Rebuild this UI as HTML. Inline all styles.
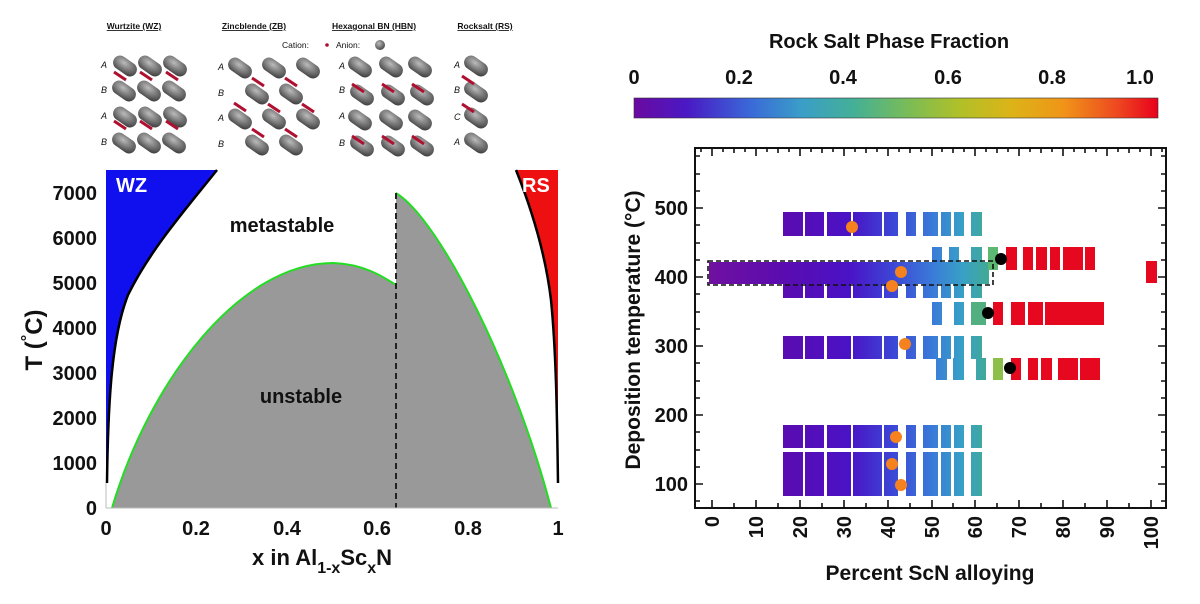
<!DOCTYPE html>
<html><head><meta charset="utf-8"><style>
html,body{margin:0;padding:0;background:#fff;}
svg{display:block;font-family:"Liberation Sans",Arial,sans-serif;}
</style></head><body>
<svg width="1200" height="604" viewBox="0 0 1200 604" xmlns="http://www.w3.org/2000/svg">
<defs>
<linearGradient id="cb" x1="0" x2="1" y1="0" y2="0">
<stop offset="0" stop-color="#6a0aa0"/><stop offset="0.1" stop-color="#4a18c4"/>
<stop offset="0.22" stop-color="#3a68d8"/><stop offset="0.32" stop-color="#3a9ec8"/>
<stop offset="0.42" stop-color="#44b096"/><stop offset="0.52" stop-color="#78bc58"/>
<stop offset="0.62" stop-color="#b0c028"/><stop offset="0.72" stop-color="#dcb418"/>
<stop offset="0.82" stop-color="#f09418"/><stop offset="0.92" stop-color="#ee4a20"/>
<stop offset="1" stop-color="#e8001c"/></linearGradient>
<linearGradient id="bg" gradientUnits="userSpaceOnUse" x1="708" x2="990" y1="0" y2="0">
<stop offset="0" stop-color="#7010a0"/><stop offset="0.27" stop-color="#5a0cb0"/>
<stop offset="0.5" stop-color="#4a12c6"/><stop offset="0.66" stop-color="#3c48d6"/>
<stop offset="0.8" stop-color="#3a7cd8"/><stop offset="0.9" stop-color="#38a0c6"/>
<stop offset="1" stop-color="#42aa92"/></linearGradient>
<radialGradient id="cap" cx="0.4" cy="0.35" r="0.7"><stop offset="0" stop-color="#bbb"/><stop offset="1" stop-color="#444"/></radialGradient>
<g id="c"><rect x="-13" y="-7" width="26" height="14" rx="7" fill="url(#cap)" transform="rotate(35)"/></g>
<g id="r"><line x1="-6" y1="-4" x2="6" y2="4" stroke="#b01030" stroke-width="3"/></g>
</defs>

<g font-weight="bold" font-size="8.5" text-decoration="underline" text-anchor="middle" fill="#111">
<text x="134" y="29">Wurtzite (WZ)</text><text x="254" y="29">Zincblende (ZB)</text>
<text x="374" y="29">Hexagonal BN (HBN)</text><text x="485" y="29">Rocksalt (RS)</text></g>
<text x="282" y="48" font-size="8.5" fill="#111">Cation:</text><circle cx="327" cy="45" r="1.8" fill="#b01030"/>
<text x="336" y="48" font-size="8.5" fill="#111">Anion:</text><circle cx="380" cy="45" r="5" fill="url(#cap)"/>
<g font-style="italic" font-size="9" fill="#111">
<text x="101" y="68">A</text><text x="101" y="93">B</text><text x="101" y="119">A</text><text x="101" y="145">B</text>
<text x="218" y="70">A</text><text x="218" y="96">B</text><text x="218" y="121">A</text><text x="218" y="147">B</text>
<text x="339" y="69">A</text><text x="339" y="93">B</text><text x="339" y="119">A</text><text x="339" y="146">B</text>
<text x="454" y="68">A</text><text x="454" y="93">B</text><text x="454" y="120">C</text><text x="454" y="145">A</text></g>
<g>
<use href="#c" x="125" y="66"/><use href="#c" x="150" y="66"/><use href="#c" x="175" y="66"/>
<use href="#c" x="124" y="91"/><use href="#c" x="149" y="91"/><use href="#c" x="174" y="91"/>
<use href="#c" x="125" y="117"/><use href="#c" x="150" y="117"/><use href="#c" x="175" y="117"/>
<use href="#c" x="124" y="143"/><use href="#c" x="149" y="143"/><use href="#c" x="174" y="143"/>
<use href="#r" x="120" y="76"/><use href="#r" x="146" y="76"/><use href="#r" x="172" y="76"/>
<use href="#r" x="120" y="125"/><use href="#r" x="146" y="125"/><use href="#r" x="172" y="125"/>
<use href="#c" x="240" y="68"/><use href="#c" x="274" y="68"/><use href="#c" x="308" y="68"/>
<use href="#c" x="257" y="94"/><use href="#c" x="291" y="94"/>
<use href="#c" x="240" y="119"/><use href="#c" x="274" y="119"/><use href="#c" x="308" y="119"/>
<use href="#c" x="257" y="145"/><use href="#c" x="291" y="145"/>
<use href="#r" x="258" y="82"/><use href="#r" x="291" y="82"/><use href="#r" x="240" y="107"/><use href="#r" x="274" y="108"/><use href="#r" x="308" y="108"/><use href="#r" x="258" y="133"/><use href="#r" x="291" y="133"/>
<use href="#c" x="360" y="67"/><use href="#c" x="391" y="67"/><use href="#c" x="420" y="67"/>
<use href="#c" x="362" y="95"/><use href="#c" x="393" y="95"/><use href="#c" x="422" y="95"/>
<use href="#c" x="360" y="120"/><use href="#c" x="391" y="120"/><use href="#c" x="420" y="120"/>
<use href="#c" x="362" y="146"/><use href="#c" x="393" y="146"/><use href="#c" x="422" y="146"/>
<use href="#r" x="358" y="88"/><use href="#r" x="388" y="88"/><use href="#r" x="418" y="88"/>
<use href="#r" x="358" y="140"/><use href="#r" x="388" y="140"/><use href="#r" x="418" y="140"/>
<use href="#c" x="476" y="66"/><use href="#c" x="476" y="92"/><use href="#c" x="476" y="118"/><use href="#c" x="476" y="143"/>
<use href="#r" x="468" y="80"/><use href="#r" x="468" y="108"/>
</g>

<path d="M106,170 L217,170 C185,210 150,250 128,295 C112,335 108,400 107,483 L106,483 Z" fill="#1010ee"/>
<path d="M217,170 C185,210 150,250 128,295 C112,335 108,400 107,483" fill="none" stroke="#000" stroke-width="2.5"/>
<path d="M516,170 L558,170 L558,483 C557,410 556,350 551,300 C545,250 530,205 516,170 Z" fill="#ee1010"/>
<path d="M516,170 C530,205 545,250 551,300 C556,350 557,410 558,483" fill="none" stroke="#000" stroke-width="2.5"/>
<path d="M112,508 C150,380 240,263 333,263 C365,264 385,278 396,285 L396,508 Z" fill="#999"/>
<path d="M396,193 C440,220 515,370 551,508 L396,508 Z" fill="#999"/>
<path d="M112,508 C150,380 240,263 333,263 C365,264 385,278 396,285" fill="none" stroke="#22dd22" stroke-width="2"/>
<path d="M396,193 C440,220 515,370 551,508" fill="none" stroke="#22dd22" stroke-width="2"/>
<line x1="396" y1="193" x2="396" y2="508" stroke="#222" stroke-width="2" stroke-dasharray="6,4"/>
<line x1="106" y1="508" x2="558" y2="508" stroke="#bbb" stroke-width="1"/>
<line x1="106" y1="483" x2="106" y2="508" stroke="#bbb" stroke-width="1"/>
<g font-weight="bold" font-size="20" fill="#fff"><text x="116" y="192">WZ</text><text x="522" y="192">RS</text></g>
<g font-weight="bold" font-size="20" fill="#111" text-anchor="middle">
<text x="282" y="232">metastable</text><text x="301" y="403">unstable</text></g>
<g font-weight="bold" font-size="20" fill="#111" text-anchor="end">
<text x="97" y="515">0</text><text x="97" y="470">1000</text><text x="97" y="425">2000</text><text x="97" y="380">3000</text>
<text x="97" y="335">4000</text><text x="97" y="290">5000</text><text x="97" y="245">6000</text><text x="97" y="200">7000</text></g>
<g font-weight="bold" font-size="20" fill="#111" text-anchor="middle">
<text x="106" y="535">0</text><text x="196" y="535">0.2</text><text x="287" y="535">0.4</text>
<text x="377" y="535">0.6</text><text x="468" y="535">0.8</text><text x="558" y="535">1</text></g>
<text x="252" y="565" font-weight="bold" font-size="22" fill="#111">x in Al<tspan font-size="16" dy="8">1-x</tspan><tspan dy="-8">Sc</tspan><tspan font-size="16" dy="8">x</tspan><tspan dy="-8">N</tspan></text>
<text transform="translate(42,340) rotate(-90)" text-anchor="middle" font-weight="bold" font-size="24" fill="#111">T (<tspan font-size="16" dy="-10">°</tspan><tspan dy="10">C)</tspan></text>

<text x="889" y="48" text-anchor="middle" font-weight="bold" font-size="20" fill="#111">Rock Salt Phase Fraction</text>
<g font-weight="bold" font-size="20" fill="#111" text-anchor="middle">
<text x="634" y="84">0</text><text x="739" y="84">0.2</text><text x="843" y="84">0.4</text>
<text x="948" y="84">0.6</text><text x="1052" y="84">0.8</text><text x="1140" y="84">1.0</text></g>
<rect x="634" y="98" width="524" height="20" fill="url(#cb)" stroke="#333" stroke-width="0.6"/>

<g fill="url(#bg)">
<rect x="783" y="212" width="20" height="24"/><rect x="805" y="212" width="19" height="24"/><rect x="827" y="212" width="24" height="24"/><rect x="853" y="212" width="29" height="24"/><rect x="884" y="212" width="14" height="24"/><rect x="906" y="212" width="10" height="24"/><rect x="923" y="212" width="15" height="24"/><rect x="941" y="212" width="10" height="24"/><rect x="954" y="212" width="10" height="24"/><rect x="971" y="212" width="11" height="24"/>
<rect x="932" y="247" width="10" height="23"/><rect x="949" y="247" width="10" height="23"/><rect x="971" y="247" width="11" height="23"/>
<rect x="783" y="284" width="20" height="14"/><rect x="805" y="284" width="19" height="14"/><rect x="827" y="284" width="24" height="14"/><rect x="853" y="284" width="29" height="14"/><rect x="884" y="284" width="14" height="14"/><rect x="906" y="284" width="10" height="14"/><rect x="923" y="284" width="15" height="14"/><rect x="941" y="284" width="10" height="14"/><rect x="954" y="284" width="10" height="14"/><rect x="971" y="284" width="11" height="14"/>
<rect x="709" y="262" width="280" height="22"/>
<rect x="932" y="302" width="10" height="23"/><rect x="954" y="302" width="10" height="23"/>
<rect x="783" y="336" width="20" height="23"/><rect x="805" y="336" width="19" height="23"/><rect x="827" y="336" width="24" height="23"/><rect x="853" y="336" width="29" height="23"/><rect x="884" y="336" width="14" height="23"/><rect x="906" y="336" width="10" height="23"/><rect x="923" y="336" width="15" height="23"/><rect x="941" y="336" width="10" height="23"/><rect x="954" y="336" width="10" height="23"/><rect x="971" y="336" width="11" height="23"/>
<rect x="936" y="358" width="11" height="22"/><rect x="953" y="358" width="11" height="22"/><rect x="976" y="358" width="10" height="22"/>
<rect x="783" y="425" width="20" height="23"/><rect x="805" y="425" width="19" height="23"/><rect x="827" y="425" width="24" height="23"/><rect x="853" y="425" width="29" height="23"/><rect x="884" y="425" width="14" height="23"/><rect x="906" y="425" width="10" height="23"/><rect x="923" y="425" width="15" height="23"/><rect x="941" y="425" width="10" height="23"/><rect x="954" y="425" width="10" height="23"/><rect x="971" y="425" width="11" height="23"/>
<rect x="783" y="452" width="20" height="44"/><rect x="805" y="452" width="19" height="44"/><rect x="827" y="452" width="24" height="44"/><rect x="853" y="452" width="29" height="44"/><rect x="884" y="452" width="14" height="44"/><rect x="906" y="452" width="10" height="44"/><rect x="923" y="452" width="15" height="44"/><rect x="941" y="452" width="10" height="44"/><rect x="954" y="452" width="10" height="44"/><rect x="971" y="452" width="11" height="44"/>
</g>
<g fill="#e6081e">
<rect x="1006" y="247" width="11" height="23"/><rect x="1023" y="247" width="10" height="23"/><rect x="1036" y="247" width="11" height="23"/><rect x="1050" y="247" width="10" height="23"/><rect x="1063" y="247" width="20" height="23"/><rect x="1085" y="247" width="10" height="23"/>
<rect x="1146" y="261" width="11" height="22"/>
<rect x="993" y="302" width="10" height="23"/><rect x="1011" y="302" width="14" height="23"/><rect x="1028" y="302" width="15" height="23"/><rect x="1045" y="302" width="59" height="23"/>
<rect x="1011" y="358" width="10" height="22"/><rect x="1028" y="358" width="10" height="22"/><rect x="1041" y="358" width="11" height="22"/><rect x="1058" y="358" width="20" height="22"/><rect x="1080" y="358" width="20" height="22"/>
</g>
<rect x="988" y="247" width="10" height="23" fill="#5cb870"/>
<rect x="971" y="302" width="15" height="23" fill="#52b080"/>
<rect x="993" y="358" width="10" height="22" fill="#8cc048"/>
<rect x="708" y="261" width="285" height="24" fill="none" stroke="#111" stroke-width="1.6" stroke-dasharray="5,3"/>
<g fill="#f5821e">
<circle cx="852" cy="227" r="6"/><circle cx="901" cy="272" r="6"/><circle cx="892" cy="286" r="6"/><circle cx="905" cy="344" r="6"/>
<circle cx="896" cy="437" r="6"/><circle cx="892" cy="464" r="6"/><circle cx="901" cy="485" r="6"/></g>
<g fill="#000"><circle cx="1001" cy="259" r="6"/><circle cx="988" cy="313" r="6"/><circle cx="1010" cy="368" r="6"/></g>

<rect x="695" y="148" width="471" height="360" fill="none" stroke="#111" stroke-width="2"/>
<g stroke="#111" stroke-width="1.6">
<path d="M695,208h8M695,277h8M695,346h8M695,415h8M695,484h8M1166,208h-8M1166,277h-8M1166,346h-8M1166,415h-8M1166,484h-8"/>
<path d="M695,174h5M695,191h5M695,225h5M695,243h5M695,260h5M695,294h5M695,312h5M695,329h5M695,363h5M695,381h5M695,398h5M695,432h5M695,450h5M695,467h5M695,501h5M695,156h5
M1166,174h-5M1166,191h-5M1166,225h-5M1166,243h-5M1166,260h-5M1166,294h-5M1166,312h-5M1166,329h-5M1166,363h-5M1166,381h-5M1166,398h-5M1166,432h-5M1166,450h-5M1166,467h-5M1166,501h-5M1166,156h-5"/>
<path d="M712,508v-8M756,508v-8M800,508v-8M844,508v-8M888,508v-8M932,508v-8M975,508v-8M1019,508v-8M1063,508v-8M1107,508v-8M1151,508v-8
M734,508v-5M778,508v-5M822,508v-5M866,508v-5M910,508v-5M953,508v-5M997,508v-5M1041,508v-5M1085,508v-5M1129,508v-5"/>
<path d="M712,148v8M734,148v5M756,148v8M778,148v5M800,148v8M822,148v5M844,148v8M866,148v5M888,148v8M910,148v5M932,148v8M953,148v5M975,148v8M997,148v5M1019,148v8M1041,148v5M1063,148v8M1085,148v5M1107,148v8M1129,148v5M1151,148v8
M701,148v4M723,148v4M745,148v4M767,148v4M789,148v4M811,148v4M833,148v4M855,148v4M877,148v4M899,148v4M921,148v4M942,148v4M964,148v4M986,148v4M1008,148v4M1030,148v4M1052,148v4M1074,148v4M1096,148v4M1118,148v4M1140,148v4M1162,148v4"/>
</g>
<g font-weight="bold" font-size="20" fill="#111" text-anchor="end">
<text x="688" y="215">500</text><text x="688" y="284">400</text><text x="688" y="353">300</text><text x="688" y="422">200</text><text x="688" y="491">100</text></g>
<g font-weight="bold" font-size="20" fill="#111" text-anchor="end">
<text transform="translate(719,516) rotate(-90)">0</text><text transform="translate(763,516) rotate(-90)">10</text>
<text transform="translate(807,516) rotate(-90)">20</text><text transform="translate(851,516) rotate(-90)">30</text>
<text transform="translate(895,516) rotate(-90)">40</text><text transform="translate(939,516) rotate(-90)">50</text>
<text transform="translate(982,516) rotate(-90)">60</text><text transform="translate(1026,516) rotate(-90)">70</text>
<text transform="translate(1070,516) rotate(-90)">80</text><text transform="translate(1114,516) rotate(-90)">90</text>
<text transform="translate(1158,516) rotate(-90)">100</text></g>
<text x="930" y="580" text-anchor="middle" font-weight="bold" font-size="21" fill="#111">Percent ScN alloying</text>
<text transform="translate(640,330) rotate(-90)" text-anchor="middle" font-weight="bold" font-size="21" fill="#111">Deposition temperature (°C)</text>
</svg>
</body></html>
